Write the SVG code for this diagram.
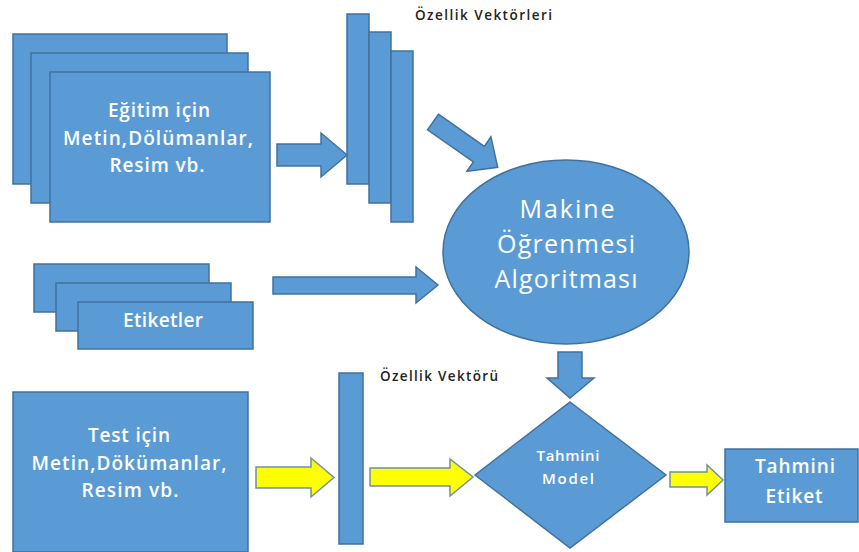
<svg xmlns="http://www.w3.org/2000/svg" width="859" height="552" viewBox="0 0 859 552">
<style>
.b{fill:#5B9BD5;stroke:#41719C;stroke-width:1.5}
.y{fill:#FFFF00;stroke:#6E8FA8;stroke-width:1.5}
.t{fill:#FFFFFF;font-family:"Open Sans","Noto Sans","Liberation Sans",sans-serif;font-weight:600;text-anchor:middle}
.e{fill:#FFFFFF;font-family:"Open Sans","Noto Sans","Liberation Sans",sans-serif;font-weight:400;font-size:25px;text-anchor:middle}
.l{fill:#222222;font-family:"Open Sans","Noto Sans","Liberation Sans",sans-serif;font-weight:600;font-size:13.5px}
</style>
<rect width="859" height="552" fill="#FFFFFF"/>
<g id="training-docs">
<rect class="b" x="13" y="34" width="214" height="150"/>
<rect class="b" x="31" y="53" width="217" height="150"/>
<rect class="b" x="50" y="72" width="220" height="150"/>
<text class="t" font-size="19" x="159" y="117" textLength="102">Eğitim için</text>
<text class="t" font-size="19" x="158" y="145" textLength="190">Metin,Dölümanlar,</text>
<text class="t" font-size="19" x="157" y="172" textLength="95">Resim vb.</text>
</g>
<g id="feature-vectors">
<rect class="b" x="347" y="14" width="22" height="170"/>
<rect class="b" x="369" y="32" width="22" height="171"/>
<rect class="b" x="391" y="51" width="22" height="171"/>
<text class="l" x="415" y="20" textLength="137">Özellik Vektörleri</text>
</g>
<g id="labels">
<rect class="b" x="34" y="264" width="175" height="48"/>
<rect class="b" x="56" y="283" width="175" height="48"/>
<rect class="b" x="78" y="302" width="175" height="47"/>
<text class="t" font-size="19" x="163" y="327" textLength="80">Etiketler</text>
</g>
<g id="ml-algorithm">
<ellipse class="b" cx="566" cy="252" rx="123" ry="92"/>
<text class="e" x="567" y="218" textLength="95">Makine</text>
<text class="e" x="566" y="253" textLength="138">Öğrenmesi</text>
<text class="e" x="566" y="288" textLength="143">Algoritması</text>
</g>
<g id="test-docs">
<rect class="b" x="13" y="392" width="235" height="160"/>
<text class="t" font-size="19" x="129" y="442" textLength="82">Test için</text>
<text class="t" font-size="19" x="129" y="470" textLength="195">Metin,Dökümanlar,</text>
<text class="t" font-size="19" x="130" y="497" textLength="97">Resim vb.</text>
</g>
<g id="test-vector">
<rect class="b" x="339" y="373" width="24" height="171"/>
<text class="l" x="380" y="381" textLength="118">Özellik Vektörü</text>
</g>
<g id="prediction-model">
<polygon class="b" points="570,402 666,475 570,548 475,475"/>
<text class="t" font-size="15" x="568" y="461" textLength="63">Tahmini</text>
<text class="t" font-size="15" x="568" y="484" textLength="52">Model</text>
</g>
<g id="predicted-label">
<rect class="b" x="725" y="449" width="133" height="73"/>
<text class="t" font-size="19" x="795" y="473" textLength="80">Tahmini</text>
<text class="t" font-size="19" x="794" y="503" textLength="57">Etiket</text>
</g>
<g id="connectors">
<polygon class="b" points="277,144 321,144 321,133 347,155 321,177 321,166 277,166"/>
<polygon class="b" transform="translate(433,122) rotate(35)" points="0,-9.5 56,-9.5 56,-21 79,0 56,21 56,9.5 0,9.5"/>
<polygon class="b" points="273,277 416,277 416,267 438,285 416,303 416,294 273,294"/>
<polygon class="b" points="558,352 582,352 582,378 594,378 570,398 547,378 558,378"/>
<polygon class="y" points="256,467 311,467 311,458 334,477.5 311,497 311,488 256,488"/>
<polygon class="y" points="370,468 450,468 450,459 473,477 450,496 450,486 370,486"/>
<polygon class="y" points="670,472 707,472 707,465 723,480 707,495 707,487 670,487"/>
</g>
</svg>
